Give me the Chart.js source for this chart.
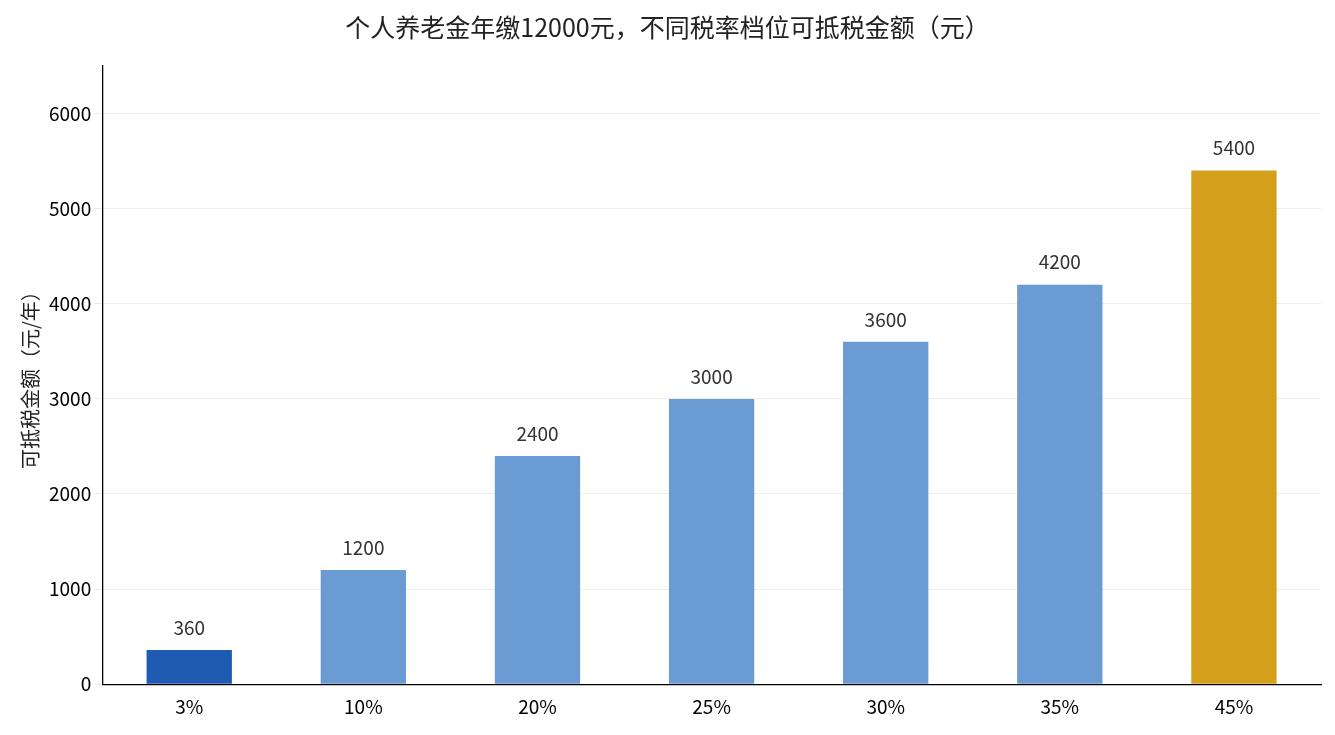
<!DOCTYPE html>
<html><head><meta charset="utf-8">
<script src="https://cdn.jsdelivr.net/npm/chart.js@4"></script>
<style>html,body{margin:0;padding:0;background:#fff}#w{width:1335px;height:735px}</style>
</head><body><div id="w"><canvas id="c"></canvas></div>
<script>
const categories=['3%','10%','20%','25%','30%','35%','45%'];
const values=[360,1200,2400,3000,3600,4200,5400];
const colors=['#1f5bb0','#6b9bd3','#6b9bd3','#6b9bd3','#6b9bd3','#6b9bd3','#d4a01c'];
const F='"Noto Sans CJK SC","Noto Sans",sans-serif';
const labels={id:'lbl',afterDatasetsDraw(ch){const c=ch.ctx;const m=ch.getDatasetMeta(0);c.save();c.font='19px '+F;c.fillStyle='#333';c.textAlign='center';c.textBaseline='bottom';m.data.forEach((b,i)=>c.fillText(values[i],b.x,b.y-13));c.restore();}};
new Chart(document.getElementById('c'),{type:'bar',data:{labels:categories,datasets:[{data:values,backgroundColor:colors,barPercentage:0.49,categoryPercentage:1}]},
options:{responsive:true,maintainAspectRatio:false,animation:false,
layout:{padding:{top:10,right:14,left:14,bottom:14}},
plugins:{legend:{display:false},tooltip:{enabled:false},title:{display:true,text:'个人养老金年缴12000元，不同税率档位可抵税金额（元）',font:{family:F,size:25,weight:'normal'},color:'#222',padding:{top:2,bottom:24}}},
scales:{x:{grid:{display:false},border:{color:'#000',width:1.3},ticks:{color:'#000',font:{family:F,size:19}}},
y:{min:0,max:6500,afterBuildTicks(a){a.ticks=[0,1000,2000,3000,4000,5000,6000].map(v=>({value:v}));},grid:{color:'#ececec'},border:{color:'#000',width:1.3},ticks:{color:'#000',font:{family:F,size:19},callback:v=>String(v)},title:{display:true,text:'可抵税金额（元/年）',font:{family:F,size:20},color:'#222'}}}},
plugins:[labels]});
</script></body></html>
